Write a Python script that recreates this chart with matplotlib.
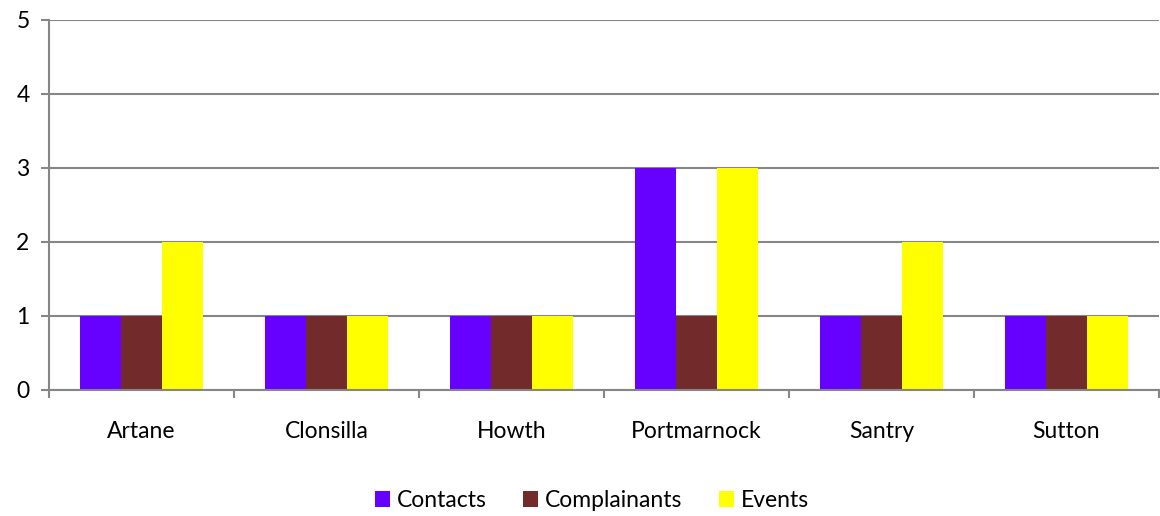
import matplotlib
matplotlib.use("Agg")
import matplotlib.pyplot as plt
import numpy as np

categories = ["Artane", "Clonsilla", "Howth", "Portmarnock", "Santry", "Sutton"]
contacts = [1, 1, 1, 3, 1, 1]
complainants = [1, 1, 1, 1, 1, 1]
events = [2, 1, 1, 3, 2, 1]
series_names = ["Contacts", "Complainants", "Events"]
colors = ["#6600FF", "#722A2A", "#FFFF00"]

plt.rcParams['font.family'] = ['Lato', 'DejaVu Sans']

fig = plt.figure(figsize=(11.6, 5.16), dpi=100)
ax = fig.add_axes([49/1160, 1 - 390/516, 1 - 49/1160 - 0.001, (390 - 20)/516])

n = len(categories)
x = np.arange(n)
w = 1 / 4.5
for i, (vals, name, c) in enumerate(zip([contacts, complainants, events], series_names, colors)):
    ax.bar(x + (i - 1) * w, vals, width=w, color=c, label=name, zorder=3, linewidth=0)

ax.set_xlim(-0.5, n - 0.5)
ax.set_ylim(0, 5)
ax.set_yticks(range(0, 6))
grid_c = "#868686"
ax.yaxis.grid(True, color=grid_c, linewidth=1.5, zorder=0)
ax.set_axisbelow(True)
for s in ["top", "right"]:
    ax.spines[s].set_visible(False)
ax.spines["left"].set_color(grid_c)
ax.spines["left"].set_linewidth(1.5)
ax.spines["bottom"].set_color(grid_c)
ax.spines["bottom"].set_linewidth(1.5)
ax.spines["bottom"].set_zorder(4)

ax.set_xticks(np.arange(-0.5, n, 1.0))
ax.set_xticklabels([])
ax.set_xticks(x, minor=True)
ax.set_xticklabels(categories, minor=True)
ax.tick_params(axis="x", which="major", length=6, width=1.5, color=grid_c, direction="out")
ax.tick_params(axis="x", which="minor", length=0, pad=22, labelsize=16.5)
ax.tick_params(axis="y", length=6, width=1.5, color=grid_c, direction="out", labelsize=16.5, pad=8)

ax.legend(loc="upper center", bbox_to_anchor=(0.489, -0.215), ncol=3, frameon=False,
          fontsize=16.5, handlelength=0.65, handleheight=0.65, handletextpad=0.3, columnspacing=1.6)

fig.savefig("out.png", dpi=100)
